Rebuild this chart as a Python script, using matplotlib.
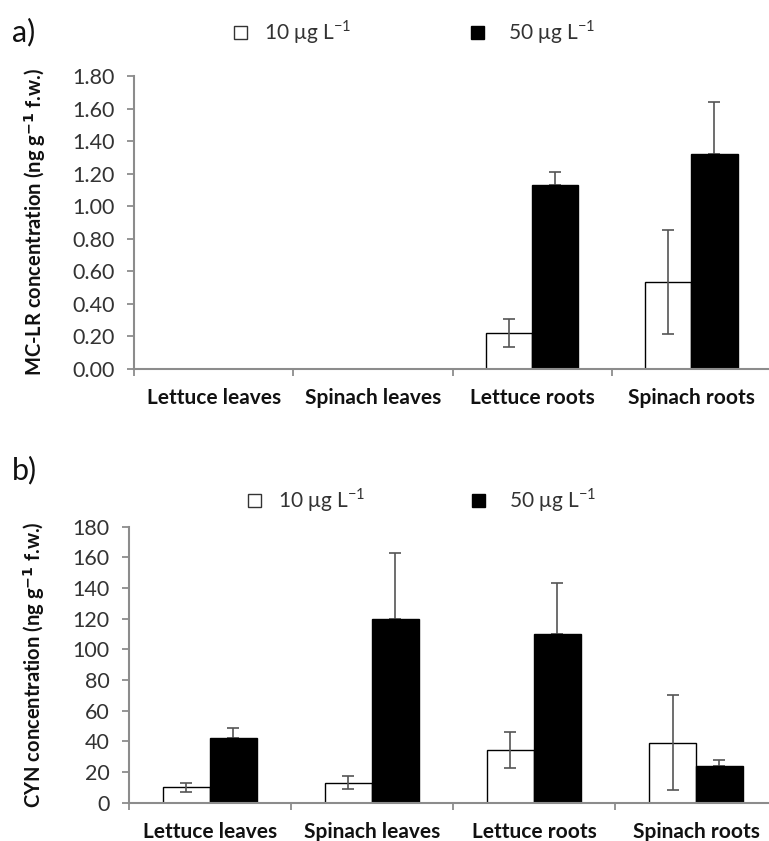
import numpy as np
import matplotlib.pyplot as plt

plt.rcParams['font.family'] = ['Lato', 'DejaVu Sans']
plt.rcParams['axes.unicode_minus'] = False

# ========= data =========
categories = ["Lettuce leaves", "Spinach leaves", "Lettuce roots", "Spinach roots"]

mclr_10 = [0.0, 0.0, 0.22, 0.53]
mclr_10_err = [0.0, 0.0, 0.085, 0.32]
mclr_50 = [0.0, 0.0, 1.13, 1.32]
mclr_50_err = [0.0, 0.0, 0.08, 0.32]

cyn_10 = [10, 13, 34.5, 39]
cyn_10_err = [3, 4.3, 11.8, 31]
cyn_50 = [42, 120, 110, 24]
cyn_50_err = [6.5, 43, 33.5, 3.7]

a_ticks = [0.0, 0.2, 0.4, 0.6, 0.8, 1.0, 1.2, 1.4, 1.6, 1.8]
b_ticks = [0, 20, 40, 60, 80, 100, 120, 140, 160, 180]

AX_GREY = "#8c8c8c"
ERR_GREY = "#555555"
TXT = "#333333"


def draw_panel(ax, v10, e10, v50, e50, ticks, fmt, ylabel, show_mask):
    x = np.arange(len(categories))
    w = 0.29
    for i in range(len(categories)):
        if not show_mask[i]:
            continue
        ax.bar(x[i] - w / 2, v10[i], w, color="white", edgecolor="black",
               linewidth=1.0, zorder=2)
        ax.bar(x[i] + w / 2, v50[i], w, color="black", edgecolor="black",
               linewidth=1.0, zorder=2)
        ax.errorbar(x[i] - w / 2, v10[i], yerr=e10[i], fmt="none",
                    ecolor=ERR_GREY, elinewidth=1.2, capsize=4, capthick=1.2,
                    zorder=3)
        ax.errorbar(x[i] + w / 2, v50[i], yerr=[[0], [e50[i]]], fmt="none",
                    ecolor=ERR_GREY, elinewidth=1.2, capsize=4, capthick=1.2,
                    zorder=1)
    ax.set_xlim(-0.5, len(categories) - 0.5)
    ax.set_ylim(ticks[0], ticks[-1])
    ax.set_yticks(ticks)
    ax.set_yticklabels([fmt.format(t) for t in ticks], fontsize=15.5, color=TXT)
    ax.set_xticks(x)
    ax.set_xticklabels(categories, fontsize=15, fontweight="bold", color="#111111")
    ax.tick_params(axis="x", length=0, pad=14)
    ax.tick_params(axis="y", length=5, width=1.3, color=AX_GREY, direction="out", pad=9)
    # category boundary ticks
    ax.vlines(np.arange(-0.5, len(categories) - 0.5, 1.0), -0.025, 0,
              transform=ax.get_xaxis_transform(), colors=AX_GREY,
              linewidth=1.3, clip_on=False, zorder=4)
    for s in ["top", "right"]:
        ax.spines[s].set_visible(False)
    for s in ["left", "bottom"]:
        ax.spines[s].set_color(AX_GREY)
        ax.spines[s].set_linewidth(1.5)
    ax.set_ylabel(ylabel, fontsize=14.5, fontweight="bold", color="#111111")


fig = plt.figure(figsize=(7.69, 8.41), dpi=100)

ax_a = fig.add_axes([0.1743, 0.5618, 0.8283, 0.3478])
draw_panel(ax_a, mclr_10, mclr_10_err, mclr_50, mclr_50_err, a_ticks, "{:.2f}",
           "MC-LR concentration (ng g$^{\\mathbf{-1}}$ f.w.)", [False, False, True, True])
ax_a.yaxis.set_label_coords(-0.135, 0.5)

ax_b = fig.add_axes([0.1677, 0.0455, 0.8427, 0.3282])
draw_panel(ax_b, cyn_10, cyn_10_err, cyn_50, cyn_50_err, b_ticks, "{:.0f}",
           "CYN concentration (ng g$^{\\mathbf{-1}}$ f.w.)", [True, True, True, True])
ax_b.yaxis.set_label_coords(-0.1265, 0.5)

# panel letters
fig.text(12 / 769, 1 - 32 / 841, "a)", fontsize=22, va="center", ha="left", color="#111111")
fig.text(12 / 769, 1 - 470 / 841, "b)", fontsize=22, va="center", ha="left", color="#111111")


# legends (manual, squares + text)
def legend_row(y_px, x_white, x_black):
    y = 1 - y_px / 841
    fig.patches.append(plt.Rectangle((x_white / 769, y - 6.5 / 841), 13 / 769, 13 / 841,
                                     transform=fig.transFigure, facecolor="white",
                                     edgecolor="#333333", linewidth=1.0))
    fig.text((x_white + 30) / 769, y, "10 μg L$^{\\mathregular{-1}}$", fontsize=15,
             va="center", ha="left", color=TXT)
    fig.patches.append(plt.Rectangle((x_black / 769, y - 6.5 / 841), 13 / 769, 13 / 841,
                                     transform=fig.transFigure, facecolor="black",
                                     edgecolor="black", linewidth=1.0))
    fig.text((x_black + 37) / 769, y, "50 μg L$^{\\mathregular{-1}}$", fontsize=15,
             va="center", ha="left", color=TXT)


legend_row(32, 234, 471)
legend_row(500, 248, 472)

fig.savefig("out.png", dpi=100)
